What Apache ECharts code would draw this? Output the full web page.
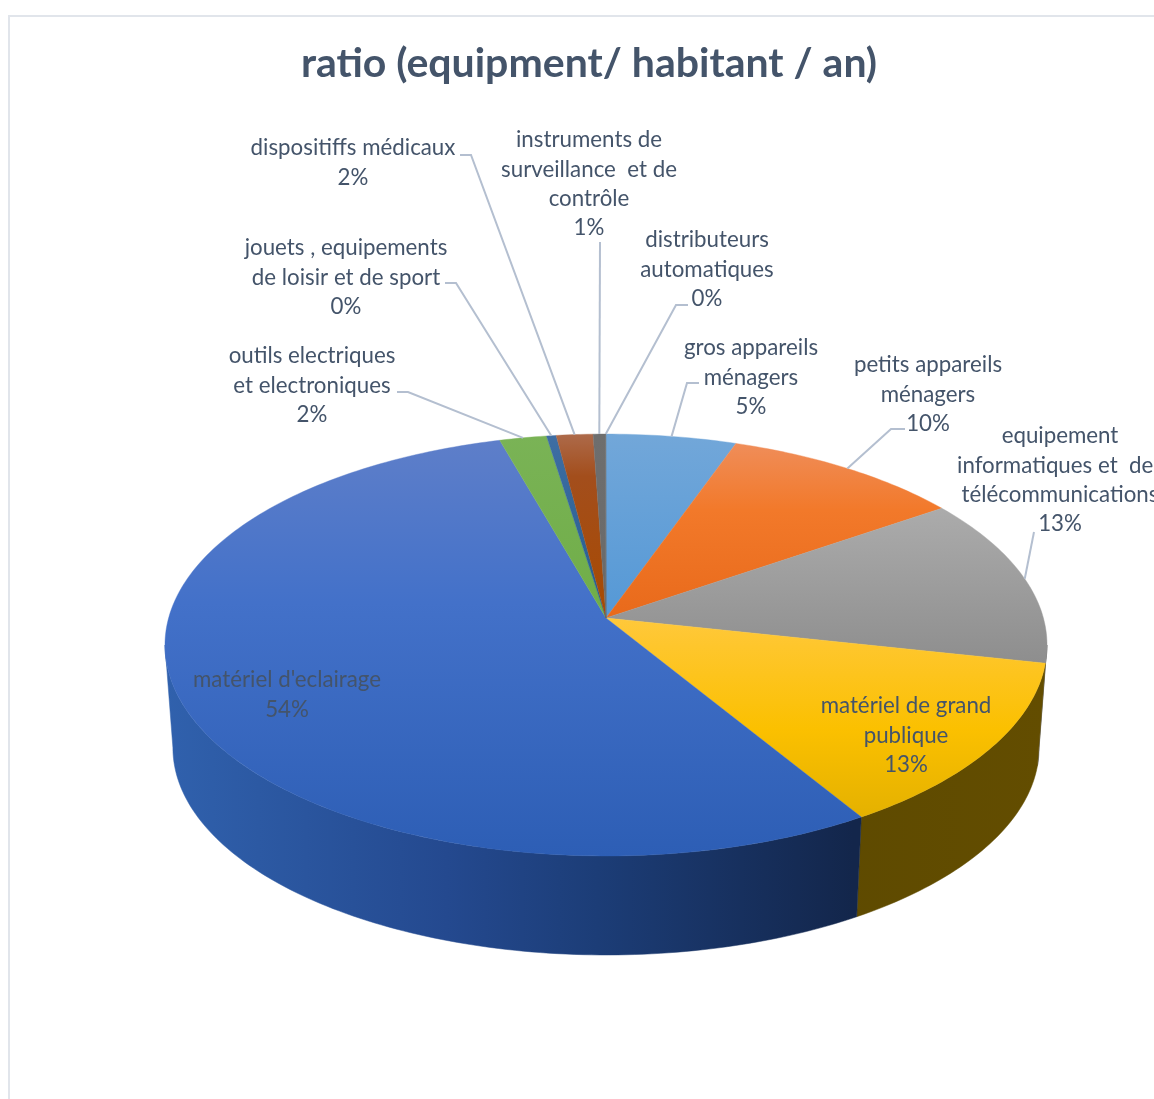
<!DOCTYPE html>
<html><head><meta charset="utf-8">
<style>html,body{margin:0;padding:0;background:#fff}#c{width:1154px;height:1099px}</style>
<script src="https://cdn.jsdelivr.net/npm/echarts@6/dist/echarts.min.js"></script>
</head><body><div id="c"></div>
<script>
// ---- data ----
var titleText = 'ratio (equipment/ habitant / an)';
var categories = [
  'gros appareils\nménagers',
  'petits appareils\nménagers',
  'equipement\ninformatiques et  des\ntélécommunications',
  'matériel de grand\npublique',
  "matériel d'eclairage",
  'outils electriques\net electroniques',
  'jouets , equipements\nde loisir et de sport',
  'dispositiffs médicaux',
  'instruments de\nsurveillance  et de\ncontrôle',
  'distributeurs\nautomatiques'
];
var values = [5.4, 10.0, 13.0, 12.9, 54.3, 1.95, 0.40, 1.52, 0.51, 0.02];

// ---- styles ----
var topStops = [
  [[0,'#72A7D9'],[0.45,'#5498D6'],[1,'#5498D6']],
  [[0,'#EF9060'],[0.18,'#F2792A'],[0.45,'#E8691A'],[1,'#E8691A']],
  [[0,'#B5B5B5'],[0.18,'#ABABAB'],[0.54,'#8E8E8E'],[1,'#8E8E8E']],
  [[0.44,'#FFC83A'],[0.7,'#FBC000'],[0.91,'#E4B100'],[1,'#E4B100']],
  [[0,'#5F7FC9'],[0.4,'#4371C9'],[1,'#2D5EB5']],
  [[0,'#7AB356'],[0.45,'#6FAD47'],[1,'#6FAD47']],
  [[0,'#3F6EA3'],[0.4,'#255E91'],[1,'#255E91']],
  [[0,'#AD6A4A'],[0.1,'#A34E1C'],[0.45,'#A84A00'],[1,'#A84A00']],
  [[0,'#6E6E6E'],[1,'#636363']],
  [[0,'#6E6E6E'],[1,'#636363']]
];
var wallStops = [
  [[0,'#2F5E8E'],[1,'#2F5E8E']],
  [[0,'#8A4A1C'],[1,'#8A4A1C']],
  [[0,'#5A5A5A'],[1,'#5A5A5A']],
  [[0.75,'#5E4A00'],[1,'#634D00']],
  [[0,'#3061AD'],[0.32,'#24498F'],[0.49,'#1C3D77'],[0.78,'#13264B'],[1,'#13264B']],
  [[0,'#446A2A'],[1,'#446A2A']],
  [[0,'#163858'],[1,'#163858']],
  [[0,'#602C08'],[1,'#602C08']],
  [[0,'#3C3C3C'],[1,'#3C3C3C']],
  [[0,'#5C4600'],[1,'#5C4600']]
];
var textColor = '#44546A', leaderColor = '#B4BFD0';
var fontFamily = 'Lato, "Open Sans", sans-serif';

// ---- layout ----
var geo = {cx:606, a:437.4, b:207.5, k:0.128, topY:618, wallY:721.3, wallScale:0.982,
           gradTop:434, gradBottom:856, gradLeft:165, gradRight:1047};
var labelCenterX = [751, 928, 1060, 906, 287, 312, 346, 353, 589, 707];
var labelFirstY  = [348, 365, 436, 706, 680, 356, 248, 148, 140, 240];
var leaderStartXY = [[699,383],[905,429],[1034,532],null,null,[397,392],[445,283],[460,155],[600,242],[688,305]];
var leaderElbowXY = [[687,383],[891,429],null,null,null,[408,392],[456,283],[471,155],null,[676,305]];

// ---- helpers ----
var total = values.reduce(function(s,v){return s+v;},0);
var cum = [0];
values.forEach(function(v,i){cum.push(cum[i]+v);});
function angle(frac){ return frac/total*2*Math.PI; }
function project(phi, deck){
  var x = Math.sin(phi), y = -Math.cos(phi), d = 1-geo.k*y;
  var sc = deck ? geo.wallScale : 1, y0 = deck ? geo.wallY : geo.topY;
  return [geo.cx+geo.a*sc*x/d, y0+geo.b*sc*y/d];
}
function arc(p0,p1,deck){
  var pts=[], n=Math.max(2,Math.ceil((p1-p0)/(Math.PI/180)));
  for(var i=0;i<=n;i++) pts.push(project(p0+(p1-p0)*i/n,deck));
  return pts;
}
function grad(x,y,x2,y2,stops){
  return new echarts.graphic.LinearGradient(x,y,x2,y2,stops.map(function(s){return {offset:s[0],color:s[1]};}),true);
}
var rows = categories.map(function(c,i){return [i,values[i]];});
var rightLimit = Math.PI/2+Math.asin(geo.k), leftLimit = 1.5*Math.PI-Math.asin(geo.k);

function renderWall(params){
  var i=params.dataIndex;
  var p0=Math.max(angle(cum[i]),rightLimit), p1=Math.min(angle(cum[i+1]),leftLimit);
  if(p1<=p0) return {type:'group',children:[]};
  var pts=arc(p0,p1,false).concat(arc(p0,p1,true).reverse());
  var g=grad(geo.gradLeft,0,geo.gradRight,0,wallStops[i]);
  return {type:'polygon',shape:{points:pts},style:{fill:g,stroke:g,lineWidth:0.5},silent:true};
}
function renderTop(params){
  var i=params.dataIndex;
  var pts=[[geo.cx,geo.topY]].concat(arc(angle(cum[i]),angle(cum[i+1]),false));
  var g=grad(0,geo.gradTop,0,geo.gradBottom,topStops[i]);
  return {type:'polygon',shape:{points:pts},style:{fill:g,stroke:g,lineWidth:0.4},silent:true};
}
function renderLabel(params){
  var i=params.dataIndex, kids=[];
  if(leaderStartXY[i]){
    var rim=project(angle((cum[i]+cum[i+1])/2),false), pts=[leaderStartXY[i]];
    if(leaderElbowXY[i]) pts.push(leaderElbowXY[i]);
    pts.push(rim);
    kids.push({type:'polyline',shape:{points:pts},style:{fill:null,stroke:leaderColor,lineWidth:2},silent:true});
  }
  var pct=Math.round(values[i]/total*100)+'%';
  kids.push({type:'text',style:{text:categories[i]+'\n'+pct,x:labelCenterX[i],y:labelFirstY[i]-14.5,
    align:'center',verticalAlign:'top',fill:textColor,font:'22.3px '+fontFamily,lineHeight:29.3},silent:true});
  return {type:'group',children:kids};
}
function customSeries(fn,z){
  return {type:'custom',coordinateSystem:'none',renderItem:fn,data:rows,z:z,silent:true,animation:false,clip:false};
}

var chart=echarts.init(document.getElementById('c'),null,{renderer:'canvas',width:1154,height:1099});
chart.setOption({
  backgroundColor:'#ffffff',
  animation:false,
  title:{text:titleText,left:584,top:59,textAlign:'center',textVerticalAlign:'middle',
    textStyle:{color:textColor,fontFamily:fontFamily,fontWeight:'bold',fontSize:41}},
  graphic:[{type:'rect',z:0,silent:true,shape:{x:9,y:16,width:1400,height:1400},
    style:{fill:'#ffffff',stroke:'#E1E5EB',lineWidth:2}}],
  series:[customSeries(renderWall,2),customSeries(renderTop,3),customSeries(renderLabel,4)]
});
</script></body></html>
